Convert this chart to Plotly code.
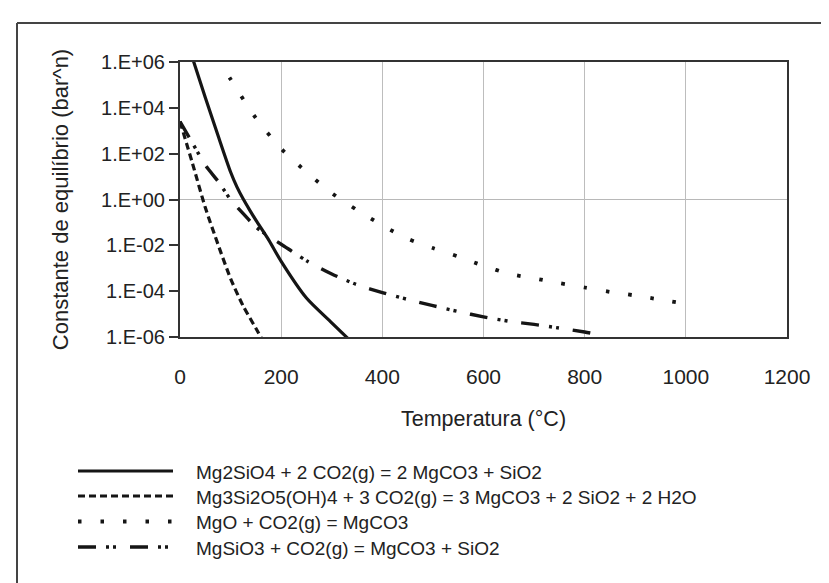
import plotly.graph_objects as go

# ---------------- data ----------------
names = [
    "Mg2SiO4 + 2 CO2(g) = 2 MgCO3 + SiO2",
    "Mg3Si2O5(OH)4 + 3 CO2(g) = 3 MgCO3 + 2 SiO2 + 2 H2O",
    "MgO + CO2(g) = MgCO3",
    "MgSiO3 + CO2(g) = MgCO3 + SiO2",
]

# Mg2SiO4 (solid)
t_forsterite = [25, 50, 75, 100, 112.5, 125, 137.5, 150, 175, 200, 250, 300, 350]
logk_forsterite = [6.15, 4.45, 2.8, 1.2, 0.55, 0.02, -0.45, -0.9, -1.75, -2.7, -4.3, -5.38, -6.45]

# Mg3Si2O5(OH)4 (dashed)
t_serpentine = [0, 25, 50, 75, 100, 125, 150, 175]
logk_serpentine = [3.4, 1.55, -0.35, -1.95, -3.45, -4.65, -5.62, -6.6]

# MgO (dotted)
t_periclase = [75, 100, 150, 200, 250, 300, 350, 400, 450, 500, 550, 600,
               650, 700, 750, 800, 850, 900, 950, 1000]
logk_periclase = [6.18, 5.25, 3.55, 2.22, 1.2, 0.28, -0.46, -1.13, -1.71, -2.12,
                  -2.49, -2.89, -3.24, -3.44, -3.65, -3.84, -4.03, -4.19, -4.37, -4.55]

# MgSiO3 (dash-dot-dot)
t_enstatite = [0, 25, 50, 75, 100, 125, 150, 175, 200, 250, 300, 350, 400,
               450, 500, 550, 600, 650, 700, 750, 800, 825]
logk_enstatite = [3.4, 2.45, 1.5, 0.8, 0.0, -0.62, -1.2, -1.6, -1.95, -2.67, -3.25,
                  -3.72, -4.06, -4.36, -4.63, -4.89, -5.12, -5.31, -5.45, -5.61, -5.78, -5.88]

y_tick_vals = [1e-6, 1e-4, 1e-2, 1e0, 1e2, 1e4, 1e6]
y_tick_text = ["1.E-06", "1.E-04", "1.E-02", "1.E+00", "1.E+02", "1.E+04", "1.E+06"]
x_tick_vals = [0, 200, 400, 600, 800, 1000, 1200]

series_t = [t_forsterite, t_serpentine, t_periclase, t_enstatite]
series_logk = [logk_forsterite, logk_serpentine, logk_periclase, logk_enstatite]

# ---------------- styling ----------------
INK = "#151515"
FONT = "Liberation Sans, Arial, sans-serif"
dashes = ["solid", "7px,4px", "3.5px,19px", "18px,10px,3px,4px,3px,14px"]
widths = [3.2, 3.2, 3.8, 3.4]

W, H = 829, 583
L, R, T, B = 172, 779, 54, 329


def px2x(px):
    return (px - L) / (R - L)


def py2y(py):
    return (B - py) / (B - T)


fig = go.Figure()
for name, tt, lk, d, w in zip(names, series_t, series_logk, dashes, widths):
    fig.add_trace(go.Scatter(
        x=tt, y=[10 ** v for v in lk], mode="lines", name=name,
        line=dict(color=INK, width=w, dash=d, shape="spline", smoothing=0.7),
        showlegend=False,
    ))

shapes = []
annotations = []
# horizontal grid line at 1.E+00 (middle of the log range)
shapes.append(dict(type="line", xref="paper", yref="paper", x0=0, x1=1, y0=0.5, y1=0.5,
                   line=dict(color="#b8b8b8", width=1), layer="below"))
# outer frame (top and left edges visible)
shapes.append(dict(type="line", xref="paper", yref="paper", x0=px2x(9), x1=px2x(840),
                   y0=py2y(15), y1=py2y(15), line=dict(color="#444444", width=2)))
shapes.append(dict(type="line", xref="paper", yref="paper", x0=px2x(9), x1=px2x(9),
                   y0=py2y(15), y1=py2y(600), line=dict(color="#444444", width=2)))

# manual legend
leg_rows = [463, 488, 513.5, 539]
for name, d, w, ry in zip(names, dashes, widths, leg_rows):
    shapes.append(dict(type="line", xref="paper", yref="paper",
                       x0=px2x(70), x1=px2x(165), y0=py2y(ry), y1=py2y(ry),
                       line=dict(color=INK, width=w, dash=d)))
    annotations.append(dict(text=name, xref="paper", yref="paper",
                            x=px2x(186), y=py2y(ry + 1), xanchor="left", yanchor="middle",
                            showarrow=False, font=dict(family=FONT, size=19, color="#222222")))

fig.update_layout(
    width=W, height=H,
    margin=dict(l=L, r=W - R, t=T, b=H - B, pad=0),
    paper_bgcolor="white", plot_bgcolor="white",
    font=dict(family=FONT, color="#222222"),
    shapes=shapes, annotations=annotations,
    showlegend=False,
)
fig.update_xaxes(
    range=[0, 1200], tickvals=x_tick_vals, showgrid=True, gridcolor="#bdbdbd", gridwidth=1,
    zeroline=False, showline=True, linecolor="#333333", linewidth=2, mirror=True,
    ticks="outside", ticklen=20, tickcolor="rgba(0,0,0,0)",
    tickfont=dict(family=FONT, size=21, color="#222222"),
    title=dict(text="Temperatura (°C)", font=dict(family=FONT, size=21.5, color="#222222"),
               standoff=24),
)
fig.update_yaxes(
    type="log", range=[-6, 6], tickvals=y_tick_vals, ticktext=y_tick_text,
    showgrid=False, zeroline=False, showline=True, linecolor="#333333", linewidth=2,
    mirror=True, ticks="outside", ticklen=9, tickwidth=1.5, tickcolor="#333333",
    tickfont=dict(family=FONT, size=20, color="#222222"),
    title=dict(text="Constante de equilíbrio (bar^n)",
               font=dict(family=FONT, size=22, color="#222222"), standoff=26),
)

fig.write_html("out.html")
